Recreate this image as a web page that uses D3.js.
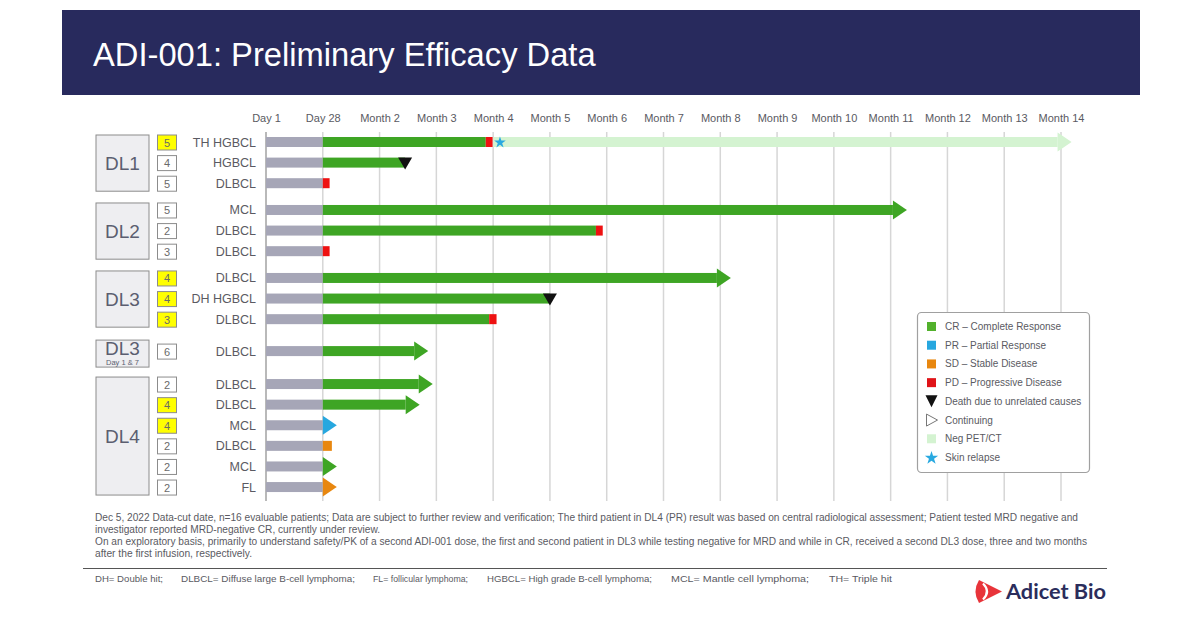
<!DOCTYPE html>
<html><head><meta charset="utf-8">
<script src="https://cdn.jsdelivr.net/npm/d3@7/dist/d3.min.js"></script>
<style>body{margin:0;background:#fff}svg{display:block;font-family:"Liberation Sans",Arial,sans-serif}</style>
</head><body><svg id="c" width="1200" height="627"></svg>
<script>
// ---------------- DATA ----------------
const title = "ADI-001: Preliminary Efficacy Data";
const tickLabels = ["Day 1","Day 28","Month 2","Month 3","Month 4","Month 5","Month 6","Month 7","Month 8","Month 9","Month 10","Month 11","Month 12","Month 13","Month 14"];
const tickValues = [0,1,2,3,4,5,6,7,8,9,10,11,12,13,14];
const groupNames = ["DL1","DL2","DL3","DL3","DL4"];
const groupSubtitles = ["","","","Day 1 & 7",""];
const groupSizes = [3,3,3,1,6];
const histology = ["TH HGBCL","HGBCL","DLBCL","MCL","DLBCL","DLBCL","DLBCL","DH HGBCL","DLBCL","DLBCL","DLBCL","DLBCL","MCL","DLBCL","MCL","FL"];
const priorLines = [5,4,5,5,2,3,4,4,3,6,2,4,4,2,2,2];
const highlighted = [1,0,0,0,0,0,1,1,1,0,0,1,1,0,0,0];
const bestResponse = ["CR","CR","PD","CR","CR","PD","CR","CR","CR","CR","CR","CR","PR","SD","CR","SD"];
const responseEnd = [3.87,2.45,1.12,11.04,5.81,1.12,7.94,5.0,3.93,2.61,2.69,2.46,1,1.16,1,1];
const progressionEnd = [3.99,null,null,null,5.93,null,null,null,4.06,null,null,null,null,null,null,null];
const negPetStart = [4.0,null,null,null,null,null,null,null,null,null,null,null,null,null,null,null];
const negPetEnd = [13.94,null,null,null,null,null,null,null,null,null,null,null,null,null,null,null];
const continuing = [1,0,0,1,0,0,1,0,0,1,1,1,1,0,1,1];
const deathAt = [null,2.45,null,null,null,null,null,5.0,null,null,null,null,null,null,null,null];
const relapseAt = [4.12,null,null,null,null,null,null,null,null,null,null,null,null,null,null,null];
const legendKeys = ["CR","PR","SD","PD","DEATH","CONT","NEG","STAR"];
const legendLabels = ["CR – Complete Response","PR –  Partial Response","SD – Stable Disease","PD – Progressive Disease","Death due to unrelated causes","Continuing","Neg PET/CT","Skin relapse"];
const footnotes = [
 "Dec 5, 2022 Data-cut date, n=16 evaluable patients; Data are subject to further review and verification; The third patient in DL4 (PR) result was based on central radiological assessment; Patient tested MRD negative and",
 "investigator reported MRD-negative CR, currently under review.",
 "On an exploratory basis, primarily to understand safety/PK of a second ADI-001 dose, the first and second patient in DL3 while testing negative for MRD  and while in CR, received a second DL3 dose, three and two months",
 "after the first infusion, respectively."];
const abbreviations = ["DH= Double hit;","DLBCL= Diffuse large B-cell lymphoma;","FL= follicular lymphoma;","HGBCL= High grade B-cell lymphoma;","MCL= Mantle cell lymphoma;","TH= Triple hit"];

// ---------------- STYLE / LAYOUT ----------------
const colors = {CR:"#3ea524",PR:"#27a7df",SD:"#e8870f",PD:"#ee1111",NEG:"#d4f3d1",BASE:"#a6a6b7",STAR:"#29a9e0"};
const legendColors = {CR:"#52b12c",PR:"#27a7df",SD:"#e8870f",PD:"#e01318",NEG:"#d4f3d1"};
const txt = "#5a5a62";
const svg = d3.select("#c");
svg.append("rect").attr("width",1200).attr("height",627).attr("fill","#fff");

// header
svg.append("rect").attr("x",62).attr("y",10).attr("width",1078).attr("height",85).attr("fill","#282a5d");
svg.append("text").attr("x",93).attr("y",66).attr("fill","#fff").attr("font-size",32.7).text(title);

const x = d3.scaleLinear().domain([0,14]).range([266,1061]);
const yUnit = d3.scaleLinear().domain([0,1]).range([142,162.6]);
const gapSlots = [0,0.3,0.6,1.15,1.75];
const rowGroup = [];
groupSizes.forEach((n,g)=>{for(let k=0;k<n;k++) rowGroup.push(g);});
const rowY = i => yUnit(i + gapSlots[rowGroup[i]]);

// grid + axis labels
const grid = svg.append("g");
grid.selectAll("line").data(tickValues).join("line")
  .attr("x1",d=>x(d)).attr("x2",d=>x(d)).attr("y1",132).attr("y2",501)
  .attr("stroke",(d,i)=>i===0?"#8a8a8a":"#d6d6d6").attr("stroke-width",(d,i)=>i===0?1.2:1.5);
const axis = d3.axisTop(x).tickValues(tickValues).tickFormat((d,i)=>tickLabels[i]).tickSize(0).tickPadding(0);
const ag = svg.append("g").attr("transform","translate(0,122)").call(axis);
ag.select(".domain").remove();
ag.selectAll("text").attr("font-size",11).attr("fill",txt).attr("font-family","Liberation Sans, Arial, sans-serif").attr("dy",0);

// group boxes
let start = 0;
groupSizes.forEach((n,g)=>{
  const y0 = rowY(start), y1 = rowY(start+n-1);
  let top = y0-7, bot = y1+8;
  if(n===1){top-=4;bot+=8;}
  svg.append("rect").attr("x",96).attr("y",top).attr("width",53).attr("height",bot-top)
    .attr("fill","#eeeef1").attr("stroke","#8c8c8c").attr("stroke-width",1);
  const cy=(top+bot)/2;
  if(groupSubtitles[g]){
    svg.append("text").attr("x",122.5).attr("y",top+15).attr("text-anchor","middle").attr("font-size",19).attr("fill","#5b5e70").text(groupNames[g]);
    svg.append("text").attr("x",122.5).attr("y",top+24.5).attr("text-anchor","middle").attr("font-size",7.5).attr("fill","#5b5e70").text(groupSubtitles[g]);
  } else {
    svg.append("text").attr("x",122.5).attr("y",cy+7).attr("text-anchor","middle").attr("font-size",19).attr("fill","#5b5e70").text(groupNames[g]);
  }
  start+=n;
});

// dose boxes and labels
const rows = svg.append("g");
histology.forEach((h,i)=>{
  const y=rowY(i);
  rows.append("rect").attr("x",157.5).attr("y",y-7).attr("width",19).attr("height",15)
    .attr("fill",highlighted[i]?"#ffff00":"#fff").attr("stroke","#8c8c8c").attr("stroke-width",1);
  rows.append("text").attr("x",167).attr("y",y+4.5).attr("text-anchor","middle").attr("font-size",11).attr("fill","#6a6a6a").text(priorLines[i]);
  rows.append("text").attr("x",256).attr("y",y+4.5).attr("text-anchor","end").attr("font-size",12.5).attr("fill",txt).text(h);
});

// bars
const bh=10, headL=14, headH=19;
const bars = svg.append("g");
histology.forEach((h,i)=>{
  const y=rowY(i);
  bars.append("rect").attr("x",x(0)).attr("y",y-bh/2).attr("width",x(1)-x(0)).attr("height",bh).attr("fill",colors.BASE);
  let lastEnd = responseEnd[i], lastType = bestResponse[i];
  if(responseEnd[i]>1) bars.append("rect").attr("x",x(1)).attr("y",y-bh/2).attr("width",x(responseEnd[i])-x(1)).attr("height",bh).attr("fill",colors[bestResponse[i]]);
  if(progressionEnd[i]!=null){
    bars.append("rect").attr("x",x(responseEnd[i])).attr("y",y-bh/2).attr("width",x(progressionEnd[i])-x(responseEnd[i])).attr("height",bh).attr("fill",colors.PD);
    lastEnd=progressionEnd[i]; lastType="PD";
  }
  if(negPetStart[i]!=null){
    bars.append("rect").attr("x",x(negPetStart[i])).attr("y",y-bh/2).attr("width",x(negPetEnd[i])-x(negPetStart[i])).attr("height",bh).attr("fill",colors.NEG);
    lastEnd=negPetEnd[i]; lastType="NEG";
  }
  if(continuing[i]){
    const bx=x(lastEnd);
    bars.append("path").attr("d",`M${bx},${y-headH/2}L${bx+headL},${y}L${bx},${y+headH/2}Z`).attr("fill",colors[lastType]);
  }
  if(deathAt[i]!=null){
    const dx=x(deathAt[i]);
    bars.append("path").attr("d",`M${dx-7},${y-5}L${dx+7},${y-5}L${dx},${y+7}Z`).attr("fill","#111");
  }
  if(relapseAt[i]!=null){
    bars.append("path").attr("d",d3.symbol(d3.symbolStar,42)()).attr("transform",`translate(${x(relapseAt[i])},${y+0.5})`).attr("fill",colors.STAR);
  }
});

// legend
const lg = svg.append("g");
lg.append("rect").attr("x",917.5).attr("y",312.5).attr("width",172).attr("height",160).attr("rx",4)
  .attr("fill","#fff").attr("stroke","#a0a0a0").attr("stroke-width",1.2);
const ly = d3.scaleLinear().domain([0,7]).range([326.5,457.5]);
legendKeys.forEach((k,i)=>{
  const y=ly(i), cx=931.5;
  if(["CR","PR","SD","PD","NEG"].includes(k)){
    lg.append("rect").attr("x",cx-4.5).attr("y",y-4.5).attr("width",9).attr("height",9).attr("fill",legendColors[k]);
  } else if(k==="DEATH"){
    lg.append("path").attr("d",`M${cx-6},${y-6}L${cx+6},${y-6}L${cx},${y+6}Z`).attr("fill","#111");
  } else if(k==="CONT"){
    lg.append("path").attr("d",`M${cx-5},${y-6}L${cx+6},${y}L${cx-5},${y+6}Z`).attr("fill","#fff").attr("stroke","#777").attr("stroke-width",1);
  } else if(k==="STAR"){
    lg.append("path").attr("d",d3.symbol(d3.symbolStar,55)()).attr("transform",`translate(${cx},${y+0.5})`).attr("fill",colors.STAR);
  }
  lg.append("text").attr("x",945).attr("y",y+3.5).attr("font-size",10).attr("fill",txt).text(legendLabels[i]);
});

// footnotes
const fnWidths=[983,285,992,157];
const fnY = d3.scaleLinear().domain([0,3]).range([521,557]);
footnotes.forEach((t,i)=>{
  svg.append("text").attr("x",95).attr("y",fnY(i)).attr("font-size",10).attr("fill",txt)
   .attr("textLength",fnWidths[i]).attr("lengthAdjust","spacingAndGlyphs").text(t);
});
svg.append("line").attr("x1",83).attr("x2",1107).attr("y1",568.5).attr("y2",568.5).attr("stroke","#555").attr("stroke-width",1);
const abX=[95,181,373,487,671,829], abW=[68,174,95,165,138,63];
abbreviations.forEach((t,i)=>{
  svg.append("text").attr("x",abX[i]).attr("y",582).attr("font-size",9).attr("fill",txt)
   .attr("textLength",abW[i]).attr("lengthAdjust","spacingAndGlyphs").text(t);
});

// logo
svg.append("path").attr("d","M979,580 L1002,591.5 L979,603 Q972,591.5 979,580 Z").attr("fill","#e8343a");
svg.append("path").attr("d","M983,583.5 Q991,591.5 983,599.5").attr("fill","none").attr("stroke","#fff").attr("stroke-width",2.2);
svg.append("text").attr("x",1006).attr("y",599).attr("font-size",20).attr("font-weight","bold").attr("fill","#2b2d5c")
  .attr("font-family","Lato, 'Open Sans', sans-serif").attr("textLength",100).attr("lengthAdjust","spacingAndGlyphs").text("Adicet Bio");
</script></body></html>
